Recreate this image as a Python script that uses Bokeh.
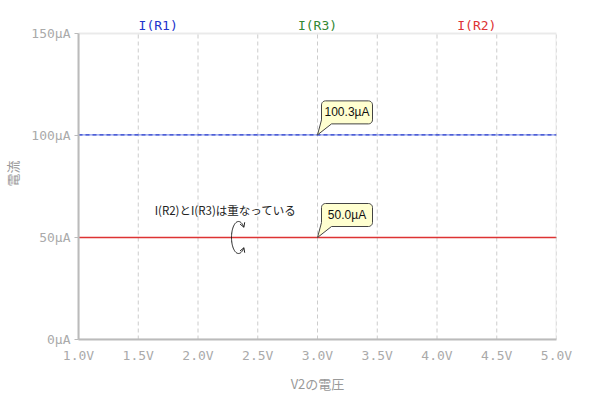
import numpy as np
from bokeh.plotting import figure
from bokeh.models import Label, FixedTicker, PrintfTickFormatter, BoxAnnotation, Range1d
from bokeh.embed import file_html
from bokeh.resources import INLINE

# ---- data ----
v2 = [1.0, 5.0]
i_r1 = [100.3, 100.3]
i_r2 = [50.0, 50.0]
i_r3 = [50.0, 50.0]
x_ticks = [1.0, 1.5, 2.0, 2.5, 3.0, 3.5, 4.0, 4.5, 5.0]
y_ticks = [0, 50, 100, 150]
series_names = ["I(R1)", "I(R3)", "I(R2)"]
series_colors = ["#2233cc", "#338833", "#dd3333"]
marker_v = 3.0
marker_vals = [100.3, 50.0]
note_text = "I(R2)とI(R3)は重なっている"

X0, X1, Y0, Y1 = 1.0, 5.0, 0.0, 150.0
FW, FH = 478, 306      # plot box size in px
TOP_PAD = 26           # px above the plot box used for series titles
sx = (X1 - X0) / FW
sy = (Y1 - Y0) / FH

p = figure(frame_width=FW, frame_height=FH + TOP_PAD, output_backend="svg", toolbar_location=None,
           x_range=Range1d(X0, X1), y_range=Range1d(Y0, Y1 + TOP_PAD * sy),
           min_border_left=70, min_border_right=36, min_border_top=7, min_border_bottom=44)
p.background_fill_color = "white"
p.border_fill_color = "white"
p.outline_line_color = None

for ax in (p.xaxis[0], p.yaxis[0]):
    ax.axis_line_color = "#bbbbbb"
    ax.axis_line_width = 2
    ax.major_tick_line_color = "#bbbbbb"
    ax.minor_tick_line_color = None
    ax.major_label_text_font = "DejaVu Sans Mono"
    ax.major_label_text_font_size = "13px"
    ax.major_label_text_color = "#aaaaaa"
    ax.axis_label_text_font = "Noto Sans CJK JP"
    ax.axis_label_text_font_size = "13px"
    ax.axis_label_text_font_style = "normal"
    ax.axis_label_text_color = "#999999"

p.xaxis.ticker = FixedTicker(ticks=x_ticks)
p.yaxis.ticker = FixedTicker(ticks=y_ticks)
p.yaxis.bounds = (Y0, Y1)
p.xaxis.formatter = PrintfTickFormatter(format="%.1fV")
p.yaxis.formatter = PrintfTickFormatter(format="%dµA")
p.xaxis.major_tick_in = 0
p.xaxis.major_tick_out = 0
p.xaxis.major_label_standoff = 8
p.yaxis.major_tick_in = 0
p.yaxis.major_tick_out = 4
p.yaxis.major_label_standoff = 4
p.xaxis.axis_label = "V2の電圧"
p.yaxis.axis_label = "電流"
p.xaxis.axis_label_standoff = 8
p.yaxis.axis_label_standoff = 6

p.xgrid.grid_line_color = None
p.ygrid.grid_line_color = None

# vertical dashed grid inside the plot box only
p.segment(x0=x_ticks, y0=[Y0] * len(x_ticks), x1=x_ticks, y1=[Y1] * len(x_ticks),
          line_color="#cccccc", line_dash="4 3", line_width=1)

# plot box outline
p.add_layout(BoxAnnotation(left=X0, right=X1, bottom=Y0, top=Y1, fill_alpha=0,
                           line_color="#bbbbbb", line_width=2))

# ---- series ----
p.line(v2, i_r3, line_color=series_colors[1], line_width=0.8)
p.line(v2, i_r2, line_color=series_colors[2], line_width=1.5)
p.line(v2, i_r1, line_color="#8899ee", line_width=1.2)
p.line(v2, i_r1, line_color="#3344cc", line_width=1.2, line_dash="4 3")

# ---- series titles above plot box ----
for k, (name, col) in enumerate(zip(series_names, series_colors)):
    xpos = X0 + (X1 - X0) * (2 * k + 1) / 6
    p.add_layout(Label(x=xpos, y=Y1, text=name, text_align="center", text_baseline="bottom",
                       y_offset=1, text_font="DejaVu Sans Mono", text_font_size="13px",
                       text_color=col))

# ---- callouts ----
def callout(x0, y0, text):
    L, R, B, T, r = 4, 55, 11, 34, 4
    pts = [(0, 0), (14, B), (R - r, B)]
    def arc(cx, cy, a0, a1):
        return [(cx + r * np.cos(a), cy + r * np.sin(a)) for a in np.linspace(a0, a1, 6)]
    pts += arc(R - r, B + r, -np.pi / 2, 0)
    pts += arc(R - r, T - r, 0, np.pi / 2)
    pts += arc(L + r, T - r, np.pi / 2, np.pi)
    pts += [(L, 15), (0, 0)]
    xs = [x0 + px * sx for px, _ in pts]
    ys = [y0 + py * sy for _, py in pts]
    p.patch(xs, ys, fill_color="#ffffd0", line_color="#444444", line_width=1)
    p.add_layout(Label(x=x0, y=y0, x_offset=(L + R) / 2, y_offset=(B + T) / 2, text=text,
                       text_align="center", text_baseline="middle",
                       text_font="Liberation Sans", text_font_size="12px", text_color="#111111"))

for val in marker_vals:
    callout(marker_v, val, f"{val:.1f}µA")

# ---- note ----
note_x = X0 + (225 - 78) * sx
note_y = Y1 - (210 - 34) * sy
p.add_layout(Label(x=note_x, y=note_y, text=note_text, text_align="center", text_baseline="middle",
                   text_font="Noto Sans CJK JP", text_font_size="11.5px", text_color="#222222"))

# rotation arrows symbol
cx = X0 + (238 - 78) * sx
cy = i_r2[0]
rx, ry = 7.0, 16.0
a0, a1 = np.radians(40), np.radians(320)
th = np.linspace(a0, a1, 60)
p.line(cx + rx * np.cos(th) * sx, cy + ry * np.sin(th) * sy, line_color="#222222", line_width=1)

def head(theta, sign):
    tipx, tipy = rx * np.cos(theta), ry * np.sin(theta)
    dx, dy = -rx * np.sin(theta) * sign, ry * np.cos(theta) * sign
    n = np.hypot(dx, dy)
    dx, dy = dx / n, dy / n
    for ang in (np.radians(150), np.radians(-150)):
        ex = dx * np.cos(ang) - dy * np.sin(ang)
        ey = dx * np.sin(ang) + dy * np.cos(ang)
        p.line([cx + tipx * sx, cx + (tipx + 5 * ex) * sx],
               [cy + tipy * sy, cy + (tipy + 5 * ey) * sy], line_color="#222222", line_width=1)

head(a0, -1)
head(a1, 1)

open("out.html", "w").write(file_html(p, INLINE))
